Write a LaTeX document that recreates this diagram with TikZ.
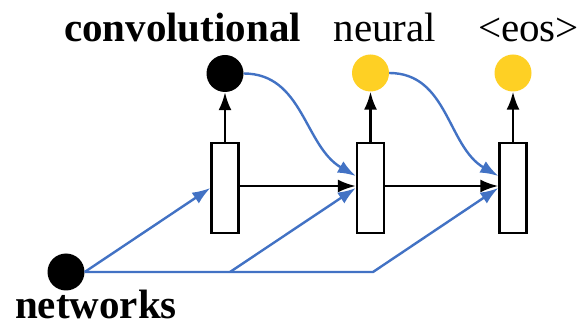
\documentclass[tikz,border=0pt]{standalone}
\usepackage{fontspec}
\setmainfont{Liberation Serif}
\usetikzlibrary{arrows.meta}
\definecolor{lblue}{RGB}{66,114,196}
\definecolor{lgold}{RGB}{254,208,36}
\begin{document}
\begin{tikzpicture}[x=1pt,y=1pt,
  word/.style={anchor=base,inner sep=0pt,font=\fontsize{41}{45}\selectfont},
  dot/.style={circle,minimum size=37pt,inner sep=0pt},
  cell/.style={draw=black,line width=2.4pt,fill=white,minimum width=27pt,minimum height=90pt,inner sep=0pt},
  blk/.style={draw=black,line width=2.4pt,-{Latex[length=18pt,width=13pt]}},
  blu/.style={draw=lblue,line width=2.4pt,-{Latex[length=18pt,width=13pt]}}]
\useasboundingbox (0,0) rectangle (583,-328);
\node[word] (tconv) at (182.5,-42) {\textbf{convolutional}};
\node[word] (tneur) at (385,-42) {neural};
\node[word] (teos) at (528.5,-42) {<eos>};
\node[word] (tnet) at (96,-318) {\textbf{networks}};
\node[dot,fill=black] (c1) at (225,-73.5) {};
\node[dot,fill=lgold] (c2) at (370.5,-73) {};
\node[dot,fill=lgold] (c3) at (513,-73) {};
\node[dot,fill=black] (net) at (66,-272) {};
\node[cell] (r1) at (225,-188) {};
\node[cell] (r2) at (370.5,-188) {};
\node[cell] (r3) at (513,-188) {};
\coordinate (b1) at (230,-272);
\coordinate (b2) at (373,-272);
\draw[blk] (r1.north) -- (c1.south);
\draw[blk] (r2.north) -- (c2.south);
\draw[blk] (r3.north) -- (c3.south);
\draw[blk] ([yshift=2pt]r1.east) -- ([yshift=2pt]r2.west);
\draw[blk] ([yshift=2pt]r2.east) -- ([yshift=2pt]r3.west);
\draw[blu] (c1.east) to[out=0,in=150] ([yshift=12pt]r2.west);
\draw[blu] (c2.east) to[out=0,in=150] ([yshift=12pt]r3.west);
\draw[blu] (net.east) -- (r1.west);
\draw[blu] (b1) -- (r2.west);
\draw[blu] (net.east) -- (b2) -- (r3.west);
\end{tikzpicture}
\end{document}
